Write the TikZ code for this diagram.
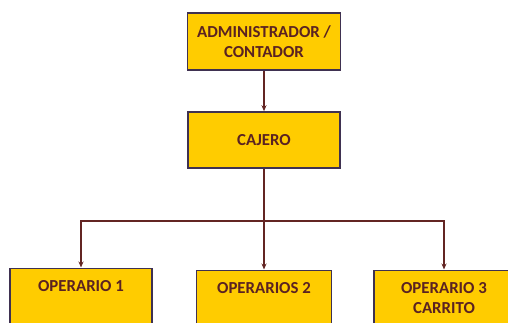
\documentclass[tikz,border=0pt]{standalone}
\usepackage{fontspec}
\setmainfont{Carlito}
\usetikzlibrary{arrows.meta}
\definecolor{boxfill}{HTML}{FFCC00}
\definecolor{boxline}{HTML}{3F3151}
\definecolor{linkcol}{HTML}{632523}
\definecolor{txtcol}{HTML}{5A2222}

\begin{document}
\begin{tikzpicture}[
    x=1pt, y=-1pt,
    box/.style={rectangle, draw=boxline, line width=1.6pt, fill=boxfill, align=center,
        font=\bfseries\fontsize{16.8}{20.5}\selectfont, text=txtcol},
    opbox/.style={box, anchor=north, text depth=50pt, inner ysep=12pt},
    arrow/.style={-{Stealth[length=6pt,width=5pt]}, draw=linkcol, line width=1.4pt}
]
    \useasboundingbox (0,0) rectangle (508,322);
    \clip (0,0) rectangle (508,322);
    % Nodes
    \node[box, minimum width=153pt, minimum height=57pt] (admin) at (264,41.5) {ADMINISTRADOR /\\CONTADOR};
    \node[box, minimum width=152pt, minimum height=56pt] (cajero) at (264,140) {CAJERO};
    \node[opbox, minimum width=142pt] (op1) at (81,267.5) {OPERARIO 1};
    \node[opbox, minimum width=135pt] (op2) at (264,269.5) {OPERARIOS 2};
    \node[opbox, minimum width=140pt] (op3) at (444,269.5) {OPERARIO 3\\CARRITO};
    \coordinate (split) at (264,221);

    % Arrows
    \draw[arrow] (admin) -- (cajero);
    \draw[arrow] (cajero) -- (op2);
    \draw[arrow] (split) -| (op1);
    \draw[arrow] (split) -| (op3);
\end{tikzpicture}
\end{document}
